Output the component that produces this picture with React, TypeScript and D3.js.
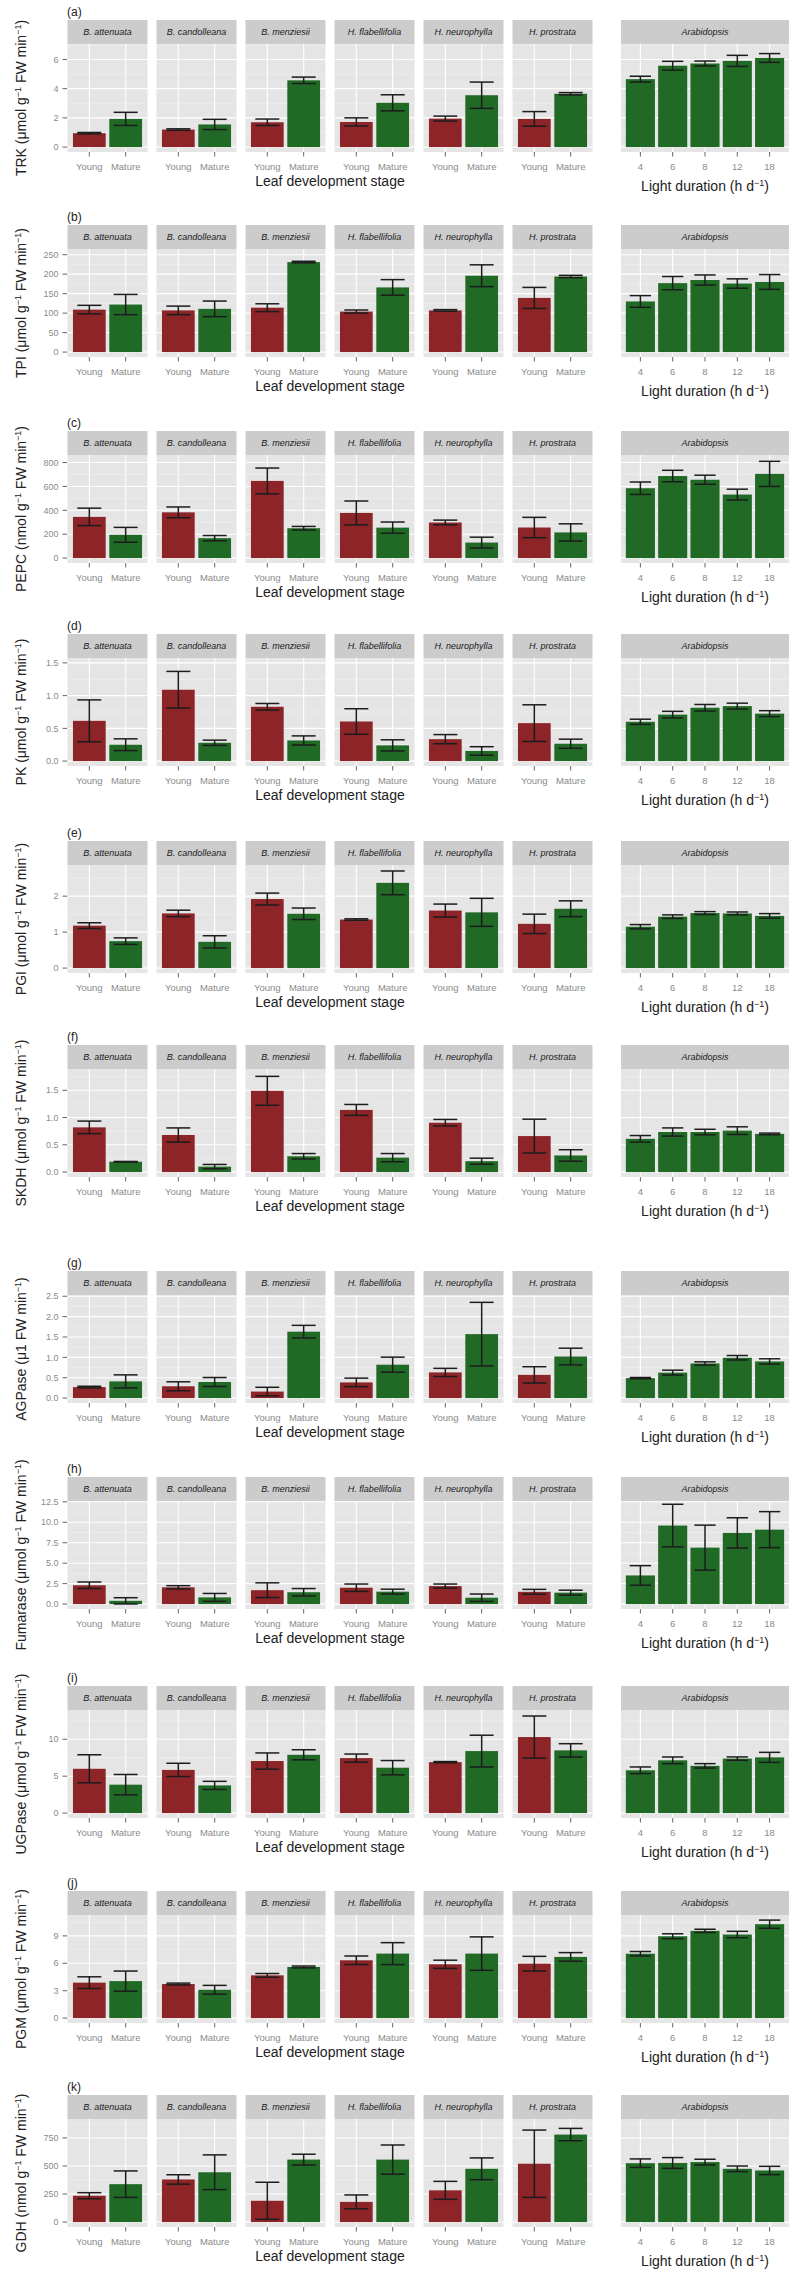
import React from "react";
import * as d3 from "d3";

// ---------- categories & labels ----------
const species = ["B. attenuata", "B. candolleana", "B. menziesii", "H. flabellifolia", "H. neurophylla", "H. prostrata"];
const stages = ["Young", "Mature"];
const lightHours = ["4", "6", "8", "12", "18"];
const panelTags = ["(a)", "(b)", "(c)", "(d)", "(e)", "(f)", "(g)", "(h)", "(i)", "(j)", "(k)"];
const enzymes = ["TRK", "TPI", "PEPC", "PK", "PGI", "SKDH", "AGPase", "Fumarase", "UGPase", "PGM", "GDH"];
const unitAmount = ["μmol", "μmol", "nmol", "μmol", "μmol", "μmol", "μ1", "μmol", "μmol", "μmol", "nmol"];
const unitPerGram = [true, true, true, true, true, true, false, true, true, true, true];

// axis upper limits (data range top used for 5% expansion) and tick values
const yMax = [6.72, 252, 822, 1.5, 2.73, 1.8, 2.41, 12.0, 13.3, 10.75, 875];
const yTicks = [
  [0, 2, 4, 6],
  [0, 50, 100, 150, 200, 250],
  [0, 200, 400, 600, 800],
  [0, 0.5, 1, 1.5],
  [0, 1, 2],
  [0, 0.5, 1, 1.5],
  [0, 0.5, 1, 1.5, 2, 2.5],
  [0, 2.5, 5, 7.5, 10, 12.5],
  [0, 5, 10],
  [0, 3, 6, 9],
  [0, 250, 500, 750],
];
const yTickFormat = ["d", "d", "d", ".1f", "d", ".1f", ".1f", ".1f", "d", "d", "d"];

// ---------- data: means and error half-widths ----------
const trkYoung = [0.95, 1.2, 1.7, 1.72, 1.95, 1.93];
const trkYoungErr = [0.05, 0.05, 0.22, 0.28, 0.17, 0.5];
const trkMature = [1.93, 1.55, 4.57, 3.03, 3.55, 3.65];
const trkMatureErr = [0.45, 0.35, 0.22, 0.55, 0.9, 0.08];
const trkArab = [4.65, 5.57, 5.72, 5.9, 6.1];
const trkArabErr = [0.2, 0.3, 0.17, 0.38, 0.3];

const tpiYoung = [109, 107, 114, 104, 107, 139];
const tpiYoungErr = [11, 11, 10, 4, 2, 27];
const tpiMature = [122, 111, 231, 166, 196, 194];
const tpiMatureErr = [26, 20, 2, 20, 28, 3];
const tpiArab = [130, 177, 185, 176, 180];
const tpiArabErr = [15, 17, 13, 12, 19];

const pepcYoung = [345, 383, 646, 378, 298, 256];
const pepcYoungErr = [73, 45, 108, 100, 20, 85];
const pepcMature = [195, 167, 250, 255, 130, 215];
const pepcMatureErr = [62, 22, 15, 47, 45, 72];
const pepcArab = [585, 687, 656, 532, 705];
const pepcArabErr = [52, 48, 38, 45, 105];

const pkYoung = [0.615, 1.09, 0.83, 0.605, 0.335, 0.58];
const pkYoungErr = [0.32, 0.28, 0.05, 0.195, 0.07, 0.28];
const pkMature = [0.25, 0.28, 0.315, 0.24, 0.155, 0.265];
const pkMatureErr = [0.09, 0.04, 0.07, 0.085, 0.065, 0.07];
const pkArab = [0.6, 0.71, 0.815, 0.84, 0.725];
const pkArabErr = [0.04, 0.05, 0.05, 0.045, 0.045];

const pgiYoung = [1.18, 1.52, 1.92, 1.35, 1.6, 1.23];
const pgiYoungErr = [0.08, 0.09, 0.165, 0.02, 0.18, 0.27];
const pgiMature = [0.75, 0.73, 1.51, 2.37, 1.55, 1.65];
const pgiMatureErr = [0.09, 0.17, 0.16, 0.33, 0.39, 0.22];
const pgiArab = [1.15, 1.43, 1.53, 1.52, 1.45];
const pgiArabErr = [0.06, 0.05, 0.04, 0.04, 0.065];

const skdhYoung = [0.82, 0.68, 1.49, 1.14, 0.905, 0.66];
const skdhYoungErr = [0.115, 0.13, 0.265, 0.1, 0.06, 0.31];
const skdhMature = [0.19, 0.1, 0.29, 0.265, 0.2, 0.305];
const skdhMatureErr = [0.005, 0.04, 0.05, 0.075, 0.055, 0.105];
const skdhArab = [0.61, 0.735, 0.735, 0.76, 0.7];
const skdhArabErr = [0.06, 0.075, 0.05, 0.07, 0.015];

const agpYoung = [0.27, 0.29, 0.16, 0.385, 0.63, 0.57];
const agpYoungErr = [0.02, 0.11, 0.105, 0.105, 0.1, 0.2];
const agpMature = [0.41, 0.395, 1.63, 0.82, 1.57, 1.02];
const agpMatureErr = [0.16, 0.11, 0.155, 0.185, 0.78, 0.205];
const agpArab = [0.49, 0.625, 0.85, 0.99, 0.9];
const agpArabErr = [0.015, 0.06, 0.04, 0.055, 0.065];

const fumYoung = [2.3, 2.05, 1.7, 2.0, 2.2, 1.5];
const fumYoungErr = [0.4, 0.2, 0.9, 0.45, 0.25, 0.3];
const fumMature = [0.4, 0.82, 1.45, 1.52, 0.78, 1.4];
const fumMatureErr = [0.38, 0.48, 0.45, 0.3, 0.45, 0.3];
const fumArab = [3.5, 9.6, 6.9, 8.7, 9.1];
const fumArabErr = [1.2, 2.6, 2.75, 1.85, 2.2];

const ugpYoung = [6.0, 5.85, 7.05, 7.45, 6.9, 10.3];
const ugpYoungErr = [1.9, 0.9, 1.1, 0.55, 0.08, 2.85];
const ugpMature = [3.85, 3.75, 7.9, 6.15, 8.4, 8.5];
const ugpMatureErr = [1.38, 0.55, 0.68, 0.97, 2.15, 0.9];
const ugpArab = [5.8, 7.15, 6.4, 7.38, 7.55];
const ugpArabErr = [0.45, 0.45, 0.3, 0.23, 0.68];

const pgmYoung = [3.88, 3.73, 4.68, 6.33, 5.89, 5.96];
const pgmYoungErr = [0.64, 0.1, 0.2, 0.47, 0.45, 0.8];
const pgmMature = [4.05, 3.1, 5.6, 7.06, 7.06, 6.7];
const pgmMatureErr = [1.1, 0.48, 0.1, 1.2, 1.83, 0.47];
const pgmArab = [7.05, 8.96, 9.55, 9.15, 10.28];
const pgmArabErr = [0.24, 0.27, 0.18, 0.35, 0.45];

const gdhYoung = [235, 380, 190, 180, 283, 520];
const gdhYoungErr = [27, 42, 165, 62, 80, 300];
const gdhMature = [338, 444, 557, 557, 475, 780];
const gdhMatureErr = [118, 155, 48, 130, 97, 55];
const gdhArab = [525, 527, 535, 475, 460];
const gdhArabErr = [38, 48, 25, 25, 37];

const youngSeries = [trkYoung, tpiYoung, pepcYoung, pkYoung, pgiYoung, skdhYoung, agpYoung, fumYoung, ugpYoung, pgmYoung, gdhYoung];
const youngErrSeries = [trkYoungErr, tpiYoungErr, pepcYoungErr, pkYoungErr, pgiYoungErr, skdhYoungErr, agpYoungErr, fumYoungErr, ugpYoungErr, pgmYoungErr, gdhYoungErr];
const matureSeries = [trkMature, tpiMature, pepcMature, pkMature, pgiMature, skdhMature, agpMature, fumMature, ugpMature, pgmMature, gdhMature];
const matureErrSeries = [trkMatureErr, tpiMatureErr, pepcMatureErr, pkMatureErr, pgiMatureErr, skdhMatureErr, agpMatureErr, fumMatureErr, ugpMatureErr, pgmMatureErr, gdhMatureErr];
const arabSeries = [trkArab, tpiArab, pepcArab, pkArab, pgiArab, skdhArab, agpArab, fumArab, ugpArab, pgmArab, gdhArab];
const arabErrSeries = [trkArabErr, tpiArabErr, pepcArabErr, pkArabErr, pgiArabErr, skdhArabErr, agpArabErr, fumArabErr, ugpArabErr, pgmArabErr, gdhArabErr];

// ---------- layout ----------
const W = 797;
const H = 2275;
const rowTops = [0, 205, 411, 614, 821, 1025, 1251, 1457, 1666, 1871, 2075];
const STRIP_TOP = 20;
const PANEL_TOP = 44;
const PANEL_BOTTOM = 152;
const FONT = "'Liberation Sans', Arial, Helvetica, sans-serif";

const COL_YOUNG = "#8c2428";
const COL_MATURE = "#206a26";
const PANEL_BG = "#e5e5e5";
const STRIP_BG = "#cccccc";
const TICK_TEXT = "#8a8a8a";
const TICK_COL = "#666666";

const panelBand = d3.scaleBand<string>().domain(species).range([67.5, 592.5]).paddingInner(9 / 89).paddingOuter(0);
const stageScale = d3.scalePoint<string>().domain(stages).range([0, panelBand.bandwidth()]).padding(0.6);
const ARAB_X0 = 621;
const ARAB_X1 = 789;
const lightScale = d3.scalePoint<string>().domain(lightHours).range([ARAB_X0, ARAB_X1]).padding(0.6);

function ErrorBar({ cx, half, y0, y1 }: { cx: number; half: number; y0: number; y1: number }) {
  return (
    <g stroke="#1c1c1c" strokeWidth={1.5} fill="none">
      <line x1={cx} x2={cx} y1={y0} y2={y1} />
      <line x1={cx - half} x2={cx + half} y1={y0} y2={y0} />
      <line x1={cx - half} x2={cx + half} y1={y1} y2={y1} />
    </g>
  );
}

function PanelBackground({ x0, x1, y, ticks, minor, cats, R, label }: any) {
  return (
    <g>
      <rect x={x0} y={R + STRIP_TOP} width={x1 - x0} height={PANEL_TOP - STRIP_TOP} fill={STRIP_BG} />
      <text
        x={(x0 + x1) / 2}
        y={R + 35}
        textAnchor="middle"
        fontSize={9}
        fontStyle="italic"
        fill="#1a1a1a"
        fontFamily={FONT}
      >
        {label}
      </text>
      <rect x={x0} y={R + PANEL_TOP} width={x1 - x0} height={PANEL_BOTTOM - PANEL_TOP} fill={PANEL_BG} />
      {minor.map((v: number, i: number) => (
        <line key={"mi" + i} x1={x0} x2={x1} y1={y(v)} y2={y(v)} stroke="#f2f2f2" strokeWidth={0.6} />
      ))}
      {ticks.map((v: number, i: number) => (
        <line key={"ma" + i} x1={x0} x2={x1} y1={y(v)} y2={y(v)} stroke="#ffffff" strokeWidth={1.1} />
      ))}
      {cats.map((cx: number, i: number) => (
        <line key={"v" + i} x1={cx} x2={cx} y1={R + PANEL_TOP} y2={R + PANEL_BOTTOM} stroke="#ffffff" strokeWidth={1.1} />
      ))}
    </g>
  );
}

function Sup({ children }: { children: React.ReactNode }) {
  return (
    <tspan dy={-5} fontSize={9}>
      {children}
    </tspan>
  );
}

function Row({ idx }: { idx: number }) {
  const R = rowTops[idx];
  const M = yMax[idx];
  const y = d3.scaleLinear().domain([-0.05 * M, 1.05 * M]).range([R + PANEL_BOTTOM, R + PANEL_TOP]);
  const ticks = yTicks[idx];
  const step = ticks[1] - ticks[0];
  const dom = y.domain();
  const minor = [ticks[0] - step / 2, ...ticks.map((t) => t + step / 2)].filter((v) => v >= dom[0] && v <= dom[1]);
  const fmt = d3.format(yTickFormat[idx]);
  const y0 = y(0);
  const bw = stageScale.step() * 0.9;
  const capHalf = stageScale.step() * 0.33;
  const abw = lightScale.step() * 0.9;
  const acapHalf = lightScale.step() * 0.33;
  const young = youngSeries[idx];
  const youngErr = youngErrSeries[idx];
  const mature = matureSeries[idx];
  const matureErr = matureErrSeries[idx];
  const arab = arabSeries[idx];
  const arabErr = arabErrSeries[idx];
  const firstX = panelBand(species[0]) as number;

  return (
    <g>
      {/* panel tag */}
      <text x={firstX - 0.5} y={R + 16} fontSize={12} fill="#222" fontFamily={FONT}>
        {panelTags[idx]}
      </text>

      {/* y-axis title */}
      <text
        transform={`translate(25.5, ${R + (PANEL_TOP + PANEL_BOTTOM) / 2}) rotate(-90)`}
        textAnchor="middle"
        fontSize={14}
        fill="#222"
        fontFamily={FONT}
      >
        <tspan>{enzymes[idx] + " (" + unitAmount[idx] + (unitPerGram[idx] ? " g" : "")}</tspan>
        {unitPerGram[idx] ? <Sup>−1</Sup> : null}
        <tspan dy={unitPerGram[idx] ? 5 : 0}>{" FW min"}</tspan>
        <Sup>−1</Sup>
        <tspan dy={5}>)</tspan>
      </text>

      {/* y-axis ticks */}
      {ticks.map((t, i) => (
        <g key={"yt" + i}>
          <line x1={firstX - 5} x2={firstX} y1={y(t)} y2={y(t)} stroke={TICK_COL} strokeWidth={1} />
          <text x={firstX - 9} y={y(t) + 3.2} textAnchor="end" fontSize={9} fill={TICK_TEXT} fontFamily={FONT}>
            {fmt(t)}
          </text>
        </g>
      ))}

      {/* species panels */}
      {species.map((sp, si) => {
        const x0 = panelBand(sp) as number;
        const x1 = x0 + panelBand.bandwidth();
        const cats = stages.map((s) => x0 + (stageScale(s) as number));
        const vals = [young[si], mature[si]];
        const errs = [youngErr[si], matureErr[si]];
        return (
          <g key={sp}>
            <PanelBackground x0={x0} x1={x1} y={y} ticks={ticks} minor={minor} cats={cats} R={R} label={sp} />
            {cats.map((cx, ci) => (
              <rect
                key={"b" + ci}
                x={cx - bw / 2}
                width={bw}
                y={y(vals[ci])}
                height={y0 - y(vals[ci])}
                fill={ci === 0 ? COL_YOUNG : COL_MATURE}
              />
            ))}
            {cats.map((cx, ci) => (
              <ErrorBar key={"e" + ci} cx={cx} half={capHalf} y0={y(vals[ci] + errs[ci])} y1={y(vals[ci] - errs[ci])} />
            ))}
            {cats.map((cx, ci) => (
              <g key={"xt" + ci}>
                <line x1={cx} x2={cx} y1={R + PANEL_BOTTOM} y2={R + PANEL_BOTTOM + 4.5} stroke={TICK_COL} strokeWidth={1} />
                <text x={cx} y={R + 169.5} textAnchor="middle" fontSize={9.5} fill={TICK_TEXT} fontFamily={FONT}>
                  {stages[ci]}
                </text>
              </g>
            ))}
          </g>
        );
      })}

      {/* Arabidopsis panel */}
      <g>
        <PanelBackground
          x0={ARAB_X0}
          x1={ARAB_X1}
          y={y}
          ticks={ticks}
          minor={minor}
          cats={lightHours.map((h) => lightScale(h) as number)}
          R={R}
          label="Arabidopsis"
        />
        {lightHours.map((h, i) => {
          const cx = lightScale(h) as number;
          return (
            <g key={h}>
              <rect x={cx - abw / 2} width={abw} y={y(arab[i])} height={y0 - y(arab[i])} fill={COL_MATURE} />
              <ErrorBar cx={cx} half={acapHalf} y0={y(arab[i] + arabErr[i])} y1={y(arab[i] - arabErr[i])} />
              <line x1={cx} x2={cx} y1={R + PANEL_BOTTOM} y2={R + PANEL_BOTTOM + 4.5} stroke={TICK_COL} strokeWidth={1} />
              <text x={cx} y={R + 169.5} textAnchor="middle" fontSize={9.5} fill={TICK_TEXT} fontFamily={FONT}>
                {h}
              </text>
            </g>
          );
        })}
      </g>

      {/* x-axis titles */}
      <text
        x={(panelBand.range()[0] + panelBand.range()[1]) / 2}
        y={R + 186}
        textAnchor="middle"
        fontSize={14}
        fill="#222"
        fontFamily={FONT}
      >
        Leaf development stage
      </text>
      <text x={(ARAB_X0 + ARAB_X1) / 2} y={R + 191} textAnchor="middle" fontSize={14} fill="#222" fontFamily={FONT}>
        <tspan>Light duration (h d</tspan>
        <Sup>−1</Sup>
        <tspan dy={5}>)</tspan>
      </text>
    </g>
  );
}

export default function App() {
  return (
    <svg
      width={W}
      height={H}
      viewBox={`0 0 ${W} ${H}`}
      style={{ position: "absolute", left: 0, top: 0, background: "#ffffff" }}
    >
      <rect x={0} y={0} width={W} height={H} fill="#ffffff" />
      {enzymes.map((e, i) => (
        <Row key={e} idx={i} />
      ))}
    </svg>
  );
}
